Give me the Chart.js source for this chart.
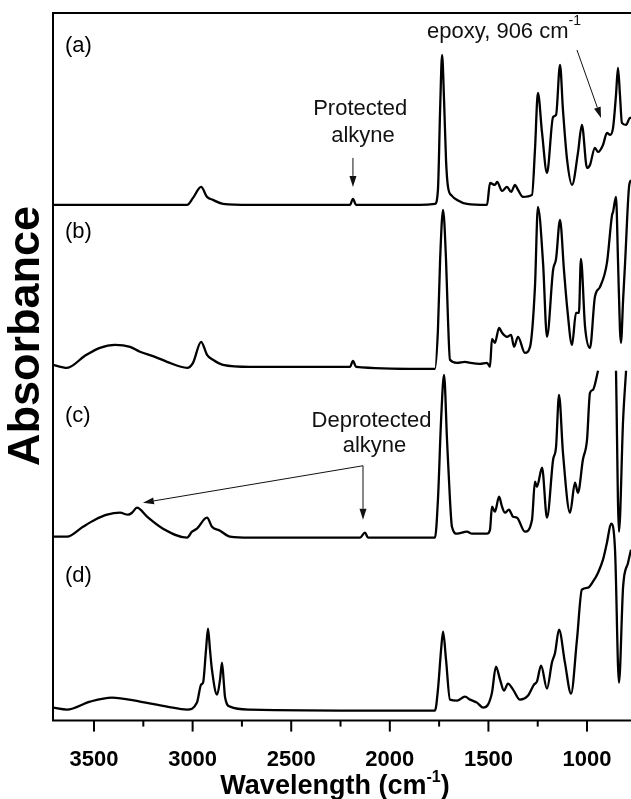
<!DOCTYPE html>
<html lang="en">
  <head>
    <meta charset="UTF-8" />
    <script src="https://cdn.jsdelivr.net/npm/chart.js"></script>
    <style>
      body { margin: 0; background: #fff; overflow: hidden; }
    </style>
  </head>
  <body>
    <canvas id="ftirChart" width="631" height="799"></canvas>

    <script>
      // Tick labels of the wavenumber axis (cm-1)
      const tickValues = [3500, 3000, 2500, 2000, 1500, 1000];
      const minorValues = [3250, 2750, 2250, 1750, 1250];
      const panelLabels = ["(a)", "(b)", "(c)", "(d)"];

      // (a) spectrum, offset absorbance (a.u.)
      const waveA = [3708, 3028, 2998, 2957, 2927, 2897, 2846, 2709, 2253, 2202, 2187, 2171, 1847, 1771, 1756, 1745, 1735, 1725, 1715, 1705, 1685, 1659, 1609, 1507, 1492, 1467, 1456, 1431, 1406, 1385, 1365, 1350, 1325, 1279, 1264, 1249, 1228, 1203, 1172, 1157, 1137, 1122, 1101, 1076, 1046, 1026, 1000, 985, 960, 944, 919, 899, 883, 868, 853, 843, 833, 823, 802, 782, 777];
      const absA = [5.16, 5.16, 5.23, 5.34, 5.24, 5.21, 5.17, 5.16, 5.16, 5.16, 5.22, 5.16, 5.16, 5.17, 5.31, 6.11, 6.66, 6.21, 5.61, 5.34, 5.25, 5.21, 5.17, 5.16, 5.38, 5.36, 5.39, 5.3, 5.34, 5.29, 5.36, 5.31, 5.24, 5.26, 5.71, 6.28, 5.88, 5.48, 6.04, 6.06, 6.56, 6.11, 5.61, 5.36, 5.68, 5.96, 5.53, 5.56, 5.73, 5.69, 5.76, 5.88, 5.86, 5.93, 6.26, 6.53, 6.26, 5.98, 5.96, 6.03, 6.03];

      // (b)
      const waveB = [3708, 3637, 3546, 3470, 3394, 3317, 3267, 3191, 3130, 3028, 2998, 2957, 2927, 2897, 2846, 2709, 2202, 2187, 2171, 1847, 1771, 1756, 1745, 1730, 1715, 1705, 1695, 1659, 1619, 1593, 1543, 1507, 1492, 1482, 1467, 1446, 1431, 1406, 1385, 1370, 1350, 1315, 1289, 1264, 1249, 1223, 1203, 1172, 1157, 1137, 1117, 1101, 1076, 1056, 1041, 1031, 1010, 985, 960, 934, 899, 873, 868, 853, 843, 833, 828, 817, 807, 787, 777];
      const absB = [3.56, 3.53, 3.65, 3.73, 3.76, 3.74, 3.69, 3.64, 3.59, 3.53, 3.58, 3.79, 3.66, 3.61, 3.56, 3.54, 3.54, 3.6, 3.54, 3.52, 3.52, 3.91, 4.61, 5.11, 4.61, 4.01, 3.61, 3.58, 3.59, 3.58, 3.57, 3.58, 3.54, 3.82, 3.78, 3.93, 3.88, 3.84, 3.86, 3.74, 3.84, 3.68, 3.74, 4.34, 5.14, 4.58, 3.84, 4.51, 4.62, 5.01, 4.51, 4.14, 3.76, 4.08, 4.08, 4.62, 3.94, 3.73, 4.24, 4.34, 4.58, 5.06, 5.09, 5.24, 4.61, 3.91, 3.78, 4.21, 4.58, 5.34, 5.41];

      // (c) - the trace is cut off where it runs into (b)
      const waveC = [3708, 3637, 3556, 3495, 3434, 3368, 3328, 3307, 3282, 3231, 3150, 3028, 3003, 2978, 2927, 2902, 2861, 2810, 2709, 2151, 2126, 2110, 1771, 1756, 1740, 1725, 1710, 1695, 1685, 1659, 1609, 1583, 1507, 1492, 1482, 1467, 1446, 1431, 1416, 1396, 1375, 1355, 1315, 1279, 1264, 1254, 1228, 1203, 1172, 1157, 1142, 1122, 1086, 1061, 1046, 1021, 1000, 985, 970, 944, 900, 853, 838, 817, 802, 790];
      const absC = [1.84, 1.84, 1.94, 2.01, 2.06, 2.08, 2.06, 2.08, 2.13, 2.04, 1.92, 1.83, 1.89, 1.92, 2.03, 1.94, 1.9, 1.84, 1.83, 1.83, 1.88, 1.83, 1.83, 2.21, 3.01, 3.46, 2.81, 2.21, 1.94, 1.87, 1.89, 1.87, 1.87, 1.91, 2.14, 2.09, 2.24, 2.14, 2.08, 2.11, 2.04, 2.03, 1.89, 2.01, 2.39, 2.34, 2.53, 2.03, 2.61, 2.74, 3.26, 2.68, 2.08, 2.38, 2.28, 2.61, 2.81, 3.28, 3.31, 3.5, null, 3.5, 1.89, 3.01, 3.5, null];

      // (d)
      const waveD = [3708, 3637, 3520, 3409, 3267, 3130, 3028, 2978, 2957, 2947, 2932, 2922, 2912, 2902, 2876, 2861, 2851, 2841, 2836, 2810, 2709, 2050, 1771, 1756, 1740, 1730, 1715, 1695, 1659, 1619, 1593, 1558, 1527, 1502, 1482, 1462, 1441, 1421, 1401, 1375, 1340, 1299, 1269, 1254, 1233, 1203, 1178, 1162, 1142, 1112, 1081, 1051, 1026, 995, 970, 944, 919, 899, 878, 858, 838, 817, 792, 777];
      const absD = [0.13, 0.11, 0.19, 0.23, 0.19, 0.14, 0.11, 0.18, 0.36, 0.38, 0.71, 0.92, 0.71, 0.51, 0.26, 0.41, 0.58, 0.36, 0.24, 0.14, 0.11, 0.1, 0.1, 0.31, 0.71, 0.89, 0.61, 0.21, 0.2, 0.24, 0.21, 0.18, 0.13, 0.16, 0.28, 0.54, 0.41, 0.3, 0.37, 0.31, 0.21, 0.25, 0.36, 0.39, 0.55, 0.32, 0.58, 0.68, 0.91, 0.58, 0.27, 0.81, 1.31, 1.33, 1.39, 1.48, 1.61, 1.78, 1.97, 1.71, 0.38, 1.34, 1.58, 1.71];

      const FONT = "'Liberation Sans', Arial, sans-serif";

      function toPoints(wave, abs) {
        return wave.map((w, i) => ({ x: w, y: abs[i] }));
      }

      function arrow(ctx, x1, y1, x2, y2) {
        const ang = Math.atan2(y2 - y1, x2 - x1);
        const len = 11, half = 3.5;
        const bx = x2 - len * Math.cos(ang), by = y2 - len * Math.sin(ang);
        ctx.beginPath();
        ctx.moveTo(x1, y1);
        ctx.lineTo(bx, by);
        ctx.stroke();
        ctx.beginPath();
        ctx.moveTo(x2, y2);
        ctx.lineTo(bx + half * Math.sin(ang), by - half * Math.cos(ang));
        ctx.lineTo(bx - half * Math.sin(ang), by + half * Math.cos(ang));
        ctx.closePath();
        ctx.fill();
      }

      // frame, ticks, axis titles and the annotations
      const decor = {
        id: "decor",
        afterDatasetsDraw(chart) {
          const { ctx, chartArea: a } = chart;
          const x = chart.scales.x, y = chart.scales.y;
          const px = (v) => x.getPixelForValue(v);
          const py = (v) => y.getPixelForValue(v);
          ctx.save();

          ctx.strokeStyle = "#000";
          ctx.lineWidth = 2;
          ctx.beginPath();
          ctx.moveTo(a.right + 5, a.top);
          ctx.lineTo(a.left, a.top);
          ctx.lineTo(a.left, a.bottom);
          ctx.lineTo(a.right + 5, a.bottom);
          ctx.stroke();

          tickValues.forEach((v) => {
            ctx.beginPath();
            ctx.moveTo(px(v), a.bottom);
            ctx.lineTo(px(v), a.bottom + 11);
            ctx.stroke();
          });
          minorValues.forEach((v) => {
            ctx.beginPath();
            ctx.moveTo(px(v), a.bottom);
            ctx.lineTo(px(v), a.bottom + 6);
            ctx.stroke();
          });

          ctx.fillStyle = "#000";
          ctx.textBaseline = "alphabetic";

          // x title with superscript
          const big = "bold 27px " + FONT, sup = "bold 16px " + FONT;
          ctx.font = big;
          const w1 = ctx.measureText("Wavelength (cm").width;
          const w3 = ctx.measureText(")").width;
          ctx.font = sup;
          const w2 = ctx.measureText("-1").width;
          let tx = 335 - (w1 + w2 + w3) / 2;
          const ty = 794;
          ctx.textAlign = "left";
          ctx.font = big;
          ctx.fillText("Wavelength (cm", tx, ty);
          ctx.font = sup;
          ctx.fillText("-1", tx + w1, ty - 12);
          ctx.font = big;
          ctx.fillText(")", tx + w1 + w2, ty);

          // y title
          ctx.save();
          ctx.translate(39, 336);
          ctx.rotate(-Math.PI / 2);
          ctx.textAlign = "center";
          ctx.font = "bold 45px " + FONT;
          ctx.fillText("Absorbance", 0, 0);
          ctx.restore();

          // panel labels
          ctx.font = "22px " + FONT;
          ctx.textAlign = "left";
          ctx.textBaseline = "middle";
          const panelY = [6.75, 4.89, 3.05, 1.45];
          panelLabels.forEach((t, i) => ctx.fillText(t, px(3647), py(panelY[i])));

          // annotations
          ctx.textBaseline = "alphabetic";
          ctx.textAlign = "center";
          ctx.fillStyle = "#111";
          ctx.fillText("Protected", px(2150), py(6.06));
          ctx.fillText("alkyne", px(2136), py(5.79));
          ctx.fillText("Deprotected", px(2093), py(2.94));
          ctx.fillText("alkyne", px(2078), py(2.69));

          ctx.textAlign = "left";
          ctx.fillText("epoxy, 906 cm", px(1811), py(6.83));
          const we = ctx.measureText("epoxy, 906 cm").width;
          ctx.font = "14px " + FONT;
          ctx.fillText("-1", px(1811) + we, py(6.83) - 13);

          ctx.lineWidth = 1;
          ctx.strokeStyle = "#111";
          arrow(ctx, px(2187), py(5.63), px(2187), py(5.34));
          arrow(ctx, px(1051), py(6.71), px(929), py(6.03));
          arrow(ctx, px(2136), py(2.55), px(3252), py(2.18));
          arrow(ctx, px(2136), py(2.55), px(2136), py(2.01));

          ctx.restore();
        },
      };

      const line = (data) => ({
        data: data,
        borderColor: "#000",
        borderWidth: 2.3,
        pointRadius: 0,
        cubicInterpolationMode: "monotone",
        spanGaps: false,
      });

      new Chart(document.getElementById("ftirChart"), {
        type: "line",
        data: {
          datasets: [
            line(toPoints(waveA, absA)),
            line(toPoints(waveB, absB)),
            line(toPoints(waveC, absC)),
            line(toPoints(waveD, absD)),
          ],
        },
        options: {
          responsive: false,
          animation: false,
          layout: { padding: { left: 53, top: 13, right: 0, bottom: 10 } },
          plugins: { legend: { display: false }, tooltip: { enabled: false } },
          scales: {
            x: {
              type: "linear",
              reverse: true,
              min: 777,
              max: 3708,
              afterBuildTicks: (axis) => {
                axis.ticks = tickValues.map((v) => ({ value: v }));
              },
              grid: { display: false, drawTicks: true, tickLength: 10 },
              border: { display: false },
              ticks: {
                color: "#000",
                padding: 16,
                maxRotation: 0,
                autoSkip: false,
                font: { family: FONT, size: 22, weight: "bold" },
                callback: (v) => String(v),
              },
            },
            y: { display: false, min: 0, max: 7.08 },
          },
        },
        plugins: [decor],
      });
    </script>
  </body>
</html>
